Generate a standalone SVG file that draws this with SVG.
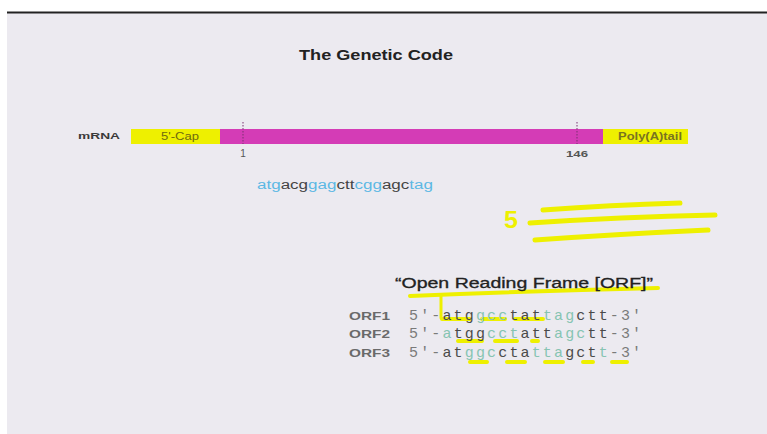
<svg xmlns="http://www.w3.org/2000/svg" width="767" height="434" viewBox="0 0 767 434">
<style>
.sans{font-family:"Liberation Sans",Arial,sans-serif}
.mono{font-family:"Liberation Mono","Courier New",monospace;font-size:15px;letter-spacing:2.15px}
.hl{fill:none;stroke:#eef000;stroke-linecap:round;stroke-linejoin:round}
.g{fill:#7a7a7a}.d{fill:#4a4a4a}.t{fill:#86c4b2}
.lb{fill:#5bb8e4}.dk{fill:#444}
.tick{stroke:#7a3070;stroke-width:1;stroke-dasharray:1.5 1.5}
</style>
<rect x="0" y="0" width="767" height="434" fill="#ffffff"/>
<rect x="7" y="13" width="760" height="421" fill="#eceaf0"/>
<line x1="7" y1="12.5" x2="767" y2="12.5" stroke="#222" stroke-width="2"/>

<g id="title">
<text class="sans" x="299" y="60" font-size="15" font-weight="bold" fill="#222" textLength="154" lengthAdjust="spacingAndGlyphs">The Genetic Code</text>
</g>

<g id="mrna">
<text class="sans" x="78" y="139" font-size="9" font-weight="bold" fill="#3a3a3a" textLength="42" lengthAdjust="spacingAndGlyphs">mRNA</text>
<rect x="131" y="129" width="89" height="15" fill="#eef000"/>
<rect x="220" y="129" width="383" height="15" fill="#d43cb6"/>
<rect x="603" y="129" width="85" height="15" fill="#eef000"/>
<text class="sans" x="180" y="140" font-size="10" fill="#6e6a10" text-anchor="middle" textLength="38" lengthAdjust="spacingAndGlyphs">5'-Cap</text>
<text class="sans" x="650" y="140" font-size="10" font-weight="bold" fill="#7a7420" text-anchor="middle" textLength="64" lengthAdjust="spacingAndGlyphs">Poly(A)tail</text>
<line class="tick" x1="243" y1="122" x2="243" y2="144"/>
<line class="tick" x1="577" y1="122" x2="577" y2="144"/>
<text class="sans" x="243" y="157" font-size="10" fill="#555" text-anchor="middle">1</text>
<text class="sans" x="577" y="157" font-size="9" font-weight="bold" fill="#555" text-anchor="middle" textLength="22" lengthAdjust="spacingAndGlyphs">146</text>
</g>

<g id="sequence">
<text class="sans" x="257" y="189" font-size="12.5" textLength="176" lengthAdjust="spacingAndGlyphs"><tspan class="lb">atg</tspan><tspan class="dk">acg</tspan><tspan class="lb">gag</tspan><tspan class="dk">ctt</tspan><tspan class="lb">cgg</tspan><tspan class="dk">agc</tspan><tspan class="lb">tag</tspan></text>
</g>

<g id="highlights">
<text class="sans" x="504" y="228" font-size="24" font-weight="bold" fill="#eef000" textLength="14" lengthAdjust="spacingAndGlyphs">5</text>
<path class="hl" stroke-width="5" d="M543,210 Q610,205 680,203"/>
<path class="hl" stroke-width="5" d="M530,223 Q620,217 715,215"/>
<path class="hl" stroke-width="5" d="M535,240 Q620,234 708,230"/>
</g>

<g id="orf-title">
<path class="hl" stroke-width="4" d="M410,296 Q530,291 658,288"/>
<path class="hl" stroke-width="3" d="M441,296 L441,318"/>
<text class="sans" x="395" y="288" font-size="14" fill="#222" stroke="#222" stroke-width="0.3" textLength="258" lengthAdjust="spacingAndGlyphs">“Open Reading Frame [ORF]”</text>
</g>

<g id="orf-underlines">
<path class="hl" stroke-width="4" d="M442,319 H470 M482,319 H505 M515,319 H543"/>
<path class="hl" stroke-width="4" d="M458,341 H482 M495,341 H517 M532,341 H538"/>
<path class="hl" stroke-width="4" d="M470,362 H487 M507,362 H525 M545,362 H563 M583,362 H593 M612,362 H627"/>
</g>

<g id="orf1">
<text class="sans" x="349" y="320" font-size="11" font-weight="bold" fill="#6a6a6a" textLength="41" lengthAdjust="spacingAndGlyphs">ORF1</text>
<text class="mono" x="409" y="320"><tspan class="g">5'-</tspan><tspan class="d">atg</tspan><tspan class="t">gcc</tspan><tspan class="d">tat</tspan><tspan class="t">tag</tspan><tspan class="d">ctt</tspan><tspan class="g">-3'</tspan></text>
</g>
<g id="orf2">
<text class="sans" x="349" y="338" font-size="11" font-weight="bold" fill="#6a6a6a" textLength="41" lengthAdjust="spacingAndGlyphs">ORF2</text>
<text class="mono" x="409" y="338"><tspan class="g">5'-</tspan><tspan class="t">a</tspan><tspan class="d">tgg</tspan><tspan class="t">cct</tspan><tspan class="d">att</tspan><tspan class="t">agc</tspan><tspan class="d">tt</tspan><tspan class="g">-3'</tspan></text>
</g>
<g id="orf3">
<text class="sans" x="349" y="357" font-size="11" font-weight="bold" fill="#6a6a6a" textLength="41" lengthAdjust="spacingAndGlyphs">ORF3</text>
<text class="mono" x="409" y="357"><tspan class="g">5'-</tspan><tspan class="d">at</tspan><tspan class="t">ggc</tspan><tspan class="d">cta</tspan><tspan class="t">tta</tspan><tspan class="d">gct</tspan><tspan class="t">t</tspan><tspan class="g">-3'</tspan></text>
</g>
<g id="connectors"></g>
</svg>
